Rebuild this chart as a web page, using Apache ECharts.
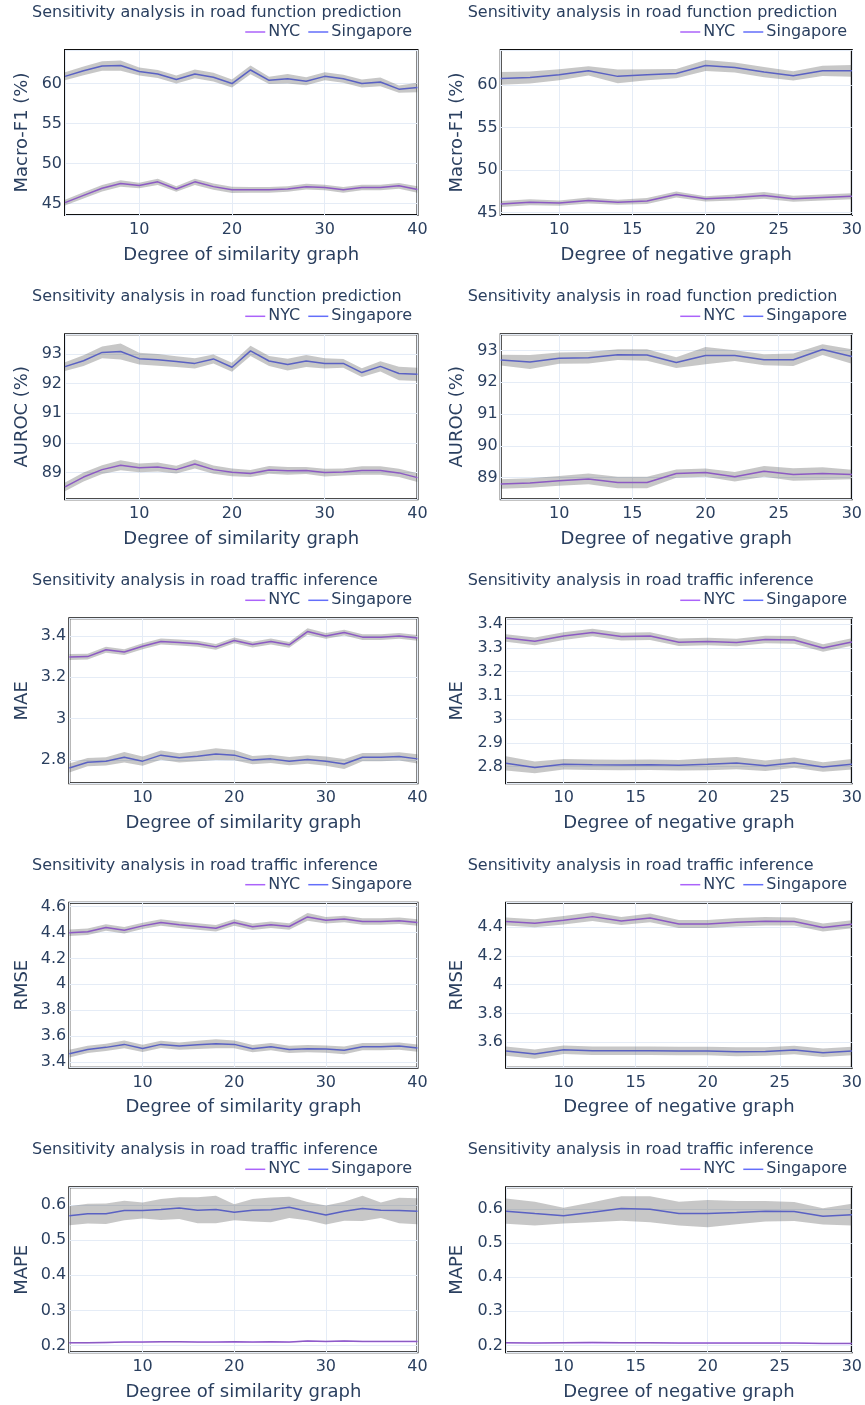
<!DOCTYPE html>
<html>
<head>
<meta charset="utf-8">
<script src="https://cdn.jsdelivr.net/npm/echarts@6/dist/echarts.min.js"></script>
<style>
  html, body { margin: 0; padding: 0; background: #fff; }
  #chart { width: 865px; height: 1405px; }
</style>
</head>
<body>
<div id="chart"></div>
<script>
// x values
const degreeSim = [2, 4, 6, 8, 10, 12, 14, 16, 18, 20, 22, 24, 26, 28, 30, 32, 34, 36, 38, 40]
const degreeNeg = [6, 8, 10, 12, 14, 16, 18, 20, 22, 24, 26, 28, 30]

// Macro-F1, similarity graph
const f1SimNYC = [45.1, 46.0, 46.9, 47.5, 47.25, 47.7, 46.8, 47.7, 47.1, 46.7, 46.7, 46.7, 46.8, 47.1, 47.0, 46.7, 47.0, 47.0, 47.2, 46.75]
const f1SimNYCStd = [0.35, 0.4, 0.4, 0.4, 0.35, 0.4, 0.35, 0.4, 0.4, 0.4, 0.35, 0.35, 0.35, 0.35, 0.35, 0.35, 0.35, 0.35, 0.35, 0.4]
const f1SimSG = [60.9, 61.6, 62.2, 62.25, 61.5, 61.2, 60.5, 61.2, 60.8, 60.0, 61.7, 60.4, 60.6, 60.3, 60.9, 60.6, 60.0, 60.2, 59.3, 59.5]
const f1SimSGStd = [0.5, 0.55, 0.6, 0.65, 0.5, 0.5, 0.5, 0.55, 0.55, 0.5, 0.55, 0.45, 0.6, 0.5, 0.5, 0.5, 0.5, 0.55, 0.45, 0.6]

// Macro-F1, negative graph
const f1NegNYC = [46.0, 46.2, 46.1, 46.4, 46.2, 46.35, 47.1, 46.6, 46.75, 47.0, 46.6, 46.75, 46.9]
const f1NegNYCStd = [0.35, 0.35, 0.3, 0.35, 0.3, 0.35, 0.35, 0.3, 0.35, 0.4, 0.35, 0.35, 0.35]
const f1NegSG = [60.75, 60.86, 61.2, 61.65, 61.0, 61.2, 61.33, 62.28, 62.04, 61.5, 61.06, 61.65, 61.65]
const f1NegSGStd = [0.75, 0.7, 0.65, 0.55, 0.8, 0.65, 0.55, 0.65, 0.6, 0.6, 0.55, 0.6, 0.7]

// AUROC, similarity graph
const aurocSimNYC = [88.52, 88.85, 89.1, 89.25, 89.16, 89.19, 89.1, 89.29, 89.1, 89.01, 88.97, 89.09, 89.06, 89.07, 89.0, 89.02, 89.07, 89.07, 88.99, 88.83]
const aurocSimNYCStd = [0.15, 0.15, 0.15, 0.17, 0.15, 0.15, 0.13, 0.15, 0.14, 0.13, 0.12, 0.13, 0.13, 0.12, 0.13, 0.12, 0.14, 0.14, 0.14, 0.15]
const aurocSimSG = [92.57, 92.77, 93.05, 93.08, 92.84, 92.8, 92.74, 92.68, 92.83, 92.55, 93.1, 92.76, 92.64, 92.76, 92.68, 92.68, 92.37, 92.58, 92.34, 92.31]
const aurocSimSGStd = [0.15, 0.18, 0.2, 0.27, 0.2, 0.2, 0.18, 0.17, 0.15, 0.15, 0.17, 0.17, 0.2, 0.2, 0.17, 0.15, 0.15, 0.17, 0.23, 0.22]

// AUROC, negative graph
const aurocNegNYC = [88.8, 88.83, 88.9, 88.96, 88.85, 88.85, 89.13, 89.16, 89.03, 89.2, 89.1, 89.13, 89.1]
const aurocNegNYCStd = [0.15, 0.15, 0.15, 0.17, 0.18, 0.18, 0.13, 0.13, 0.15, 0.17, 0.2, 0.2, 0.15]
const aurocNegSG = [92.7, 92.64, 92.76, 92.77, 92.87, 92.86, 92.62, 92.84, 92.84, 92.71, 92.71, 93.03, 92.81]
const aurocNegSGStd = [0.17, 0.22, 0.18, 0.18, 0.17, 0.18, 0.17, 0.27, 0.17, 0.17, 0.2, 0.17, 0.23]

// MAE, similarity graph
const maeSimNYC = [3.298, 3.3, 3.333, 3.322, 3.35, 3.373, 3.368, 3.362, 3.347, 3.378, 3.358, 3.373, 3.357, 3.421, 3.4, 3.416, 3.394, 3.394, 3.4, 3.39]
const maeSimNYCStd = [0.014, 0.014, 0.014, 0.014, 0.014, 0.014, 0.014, 0.014, 0.014, 0.014, 0.014, 0.014, 0.014, 0.016, 0.014, 0.014, 0.014, 0.014, 0.014, 0.014]
const maeSimSG = [2.762, 2.79, 2.794, 2.814, 2.795, 2.824, 2.811, 2.819, 2.829, 2.824, 2.8, 2.806, 2.795, 2.803, 2.795, 2.781, 2.814, 2.814, 2.818, 2.806]
const maeSimSGStd = [0.022, 0.02, 0.02, 0.025, 0.022, 0.022, 0.022, 0.025, 0.028, 0.025, 0.02, 0.02, 0.02, 0.02, 0.022, 0.024, 0.02, 0.02, 0.02, 0.022]

// MAE, negative graph
const maeNegNYC = [3.342, 3.328, 3.35, 3.365, 3.348, 3.35, 3.324, 3.327, 3.323, 3.336, 3.334, 3.3, 3.325]
const maeNegNYCStd = [0.016, 0.016, 0.016, 0.016, 0.016, 0.016, 0.016, 0.016, 0.016, 0.016, 0.016, 0.016, 0.016]
const maeNegSG = [2.814, 2.797, 2.81, 2.808, 2.807, 2.808, 2.806, 2.81, 2.815, 2.804, 2.817, 2.799, 2.81]
const maeNegSGStd = [0.03, 0.025, 0.022, 0.022, 0.022, 0.022, 0.022, 0.025, 0.026, 0.022, 0.022, 0.02, 0.022]

// RMSE, similarity graph
const rmseSimNYC = [4.398, 4.405, 4.438, 4.418, 4.451, 4.477, 4.459, 4.446, 4.433, 4.477, 4.444, 4.459, 4.446, 4.52, 4.495, 4.505, 4.485, 4.485, 4.49, 4.477]
const rmseSimNYCStd = [0.025, 0.025, 0.025, 0.025, 0.025, 0.025, 0.025, 0.025, 0.025, 0.025, 0.025, 0.025, 0.025, 0.03, 0.025, 0.025, 0.025, 0.025, 0.025, 0.025]
const rmseSimSG = [3.464, 3.497, 3.513, 3.536, 3.505, 3.536, 3.523, 3.533, 3.541, 3.536, 3.503, 3.518, 3.497, 3.503, 3.5, 3.49, 3.518, 3.518, 3.523, 3.508]
const rmseSimSGStd = [0.03, 0.028, 0.028, 0.03, 0.028, 0.028, 0.028, 0.032, 0.035, 0.03, 0.028, 0.028, 0.028, 0.028, 0.028, 0.03, 0.028, 0.028, 0.028, 0.028]

// RMSE, negative graph
const rmseNegNYC = [4.44, 4.428, 4.449, 4.474, 4.444, 4.465, 4.423, 4.423, 4.435, 4.442, 4.44, 4.398, 4.421]
const rmseNegNYCStd = [0.028, 0.028, 0.03, 0.03, 0.028, 0.03, 0.028, 0.028, 0.03, 0.03, 0.028, 0.028, 0.028]
const rmseNegSG = [3.538, 3.517, 3.547, 3.54, 3.54, 3.54, 3.538, 3.538, 3.533, 3.535, 3.545, 3.526, 3.538]
const rmseNegSGStd = [0.032, 0.032, 0.03, 0.03, 0.03, 0.03, 0.03, 0.03, 0.032, 0.03, 0.03, 0.03, 0.03]

// MAPE, similarity graph
const mapeSimNYC = [0.208, 0.208, 0.209, 0.21, 0.21, 0.211, 0.211, 0.21, 0.21, 0.211, 0.21, 0.211, 0.21, 0.213, 0.212, 0.213, 0.212, 0.212, 0.212, 0.212]
const mapeSimNYCStd = [0.002, 0.002, 0.002, 0.002, 0.002, 0.002, 0.002, 0.002, 0.002, 0.002, 0.002, 0.002, 0.002, 0.002, 0.002, 0.002, 0.002, 0.002, 0.002, 0.002]
const mapeSimSG = [0.569, 0.575, 0.575, 0.584, 0.584, 0.587, 0.591, 0.585, 0.587, 0.579, 0.585, 0.586, 0.593, 0.582, 0.571, 0.582, 0.59, 0.585, 0.584, 0.582]
const mapeSimSGStd = [0.027, 0.028, 0.029, 0.028, 0.023, 0.03, 0.031, 0.037, 0.039, 0.023, 0.032, 0.035, 0.03, 0.026, 0.027, 0.027, 0.036, 0.022, 0.036, 0.037]

// MAPE, negative graph
const mapeNegNYC = [0.208, 0.207, 0.208, 0.209, 0.208, 0.208, 0.207, 0.207, 0.207, 0.207, 0.207, 0.206, 0.206]
const mapeNegNYCStd = [0.002, 0.002, 0.002, 0.002, 0.002, 0.002, 0.002, 0.002, 0.002, 0.002, 0.002, 0.002, 0.002]
const mapeNegSG = [0.593, 0.586, 0.58, 0.59, 0.601, 0.599, 0.586, 0.586, 0.589, 0.593, 0.592, 0.578, 0.583]
const mapeNegSGStd = [0.037, 0.035, 0.023, 0.029, 0.036, 0.038, 0.035, 0.04, 0.034, 0.03, 0.028, 0.024, 0.032]

const cityNames = ['NYC', 'Singapore']
const titleFunc = 'Sensitivity analysis in road function prediction'
const titleTraffic = 'Sensitivity analysis in road traffic inference'
const xNameSim = 'Degree of similarity graph'
const xNameNeg = 'Degree of negative graph'

const textColor = '#2a3f5f'
const gridColor = '#E5ECF6'
const bandColor = 'rgba(68,68,68,0.3)'
const lineColors = ['#AB63FA', '#636EFA']
const fontFamily = 'DejaVu Sans'

// panel layout: row tops of the plot frames
const rowTops = [50, 334.3, 618.3, 902.7, 1187.3]
const frameH = 165

const panels = [
  { row: 0, col: 0, left: 65, title: titleFunc, yName: 'Macro-F1 (%)', xName: xNameSim, x: degreeSim, nyc: f1SimNYC, nycStd: f1SimNYCStd, sg: f1SimSG, sgStd: f1SimSGStd, xmin: 2, xmax: 40, xInt: 10, ymin: 43.55, ymax: 64.2, yInt: 5 },
  { row: 0, col: 1, left: 500.7, title: titleFunc, yName: 'Macro-F1 (%)', xName: xNameNeg, x: degreeNeg, nyc: f1NegNYC, nycStd: f1NegNYCStd, sg: f1NegSG, sgStd: f1NegSGStd, xmin: 6, xmax: 30, xInt: 5, ymin: 44.7, ymax: 64.1, yInt: 5 },
  { row: 1, col: 0, left: 65, title: titleFunc, yName: 'AUROC (%)', xName: xNameSim, x: degreeSim, nyc: aurocSimNYC, nycStd: aurocSimNYCStd, sg: aurocSimSG, sgStd: aurocSimSGStd, xmin: 2, xmax: 40, xInt: 10, ymin: 88.1, ymax: 93.66, yInt: 1 },
  { row: 1, col: 1, left: 500.7, title: titleFunc, yName: 'AUROC (%)', xName: xNameNeg, x: degreeNeg, nyc: aurocNegNYC, nycStd: aurocNegNYCStd, sg: aurocNegSG, sgStd: aurocNegSGStd, xmin: 6, xmax: 30, xInt: 5, ymin: 88.32, ymax: 93.51, yInt: 1 },
  { row: 2, col: 0, left: 69.3, title: titleTraffic, yName: 'MAE', xName: xNameSim, x: degreeSim, nyc: maeSimNYC, nycStd: maeSimNYCStd, sg: maeSimSG, sgStd: maeSimSGStd, xmin: 2, xmax: 40, xInt: 10, ymin: 2.688, ymax: 3.485, yInt: 0.2 },
  { row: 2, col: 1, left: 506, title: titleTraffic, yName: 'MAE', xName: xNameNeg, x: degreeNeg, nyc: maeNegNYC, nycStd: maeNegNYCStd, sg: maeNegSG, sgStd: maeNegSGStd, xmin: 6, xmax: 30, xInt: 5, ymin: 2.73, ymax: 3.425, yInt: 0.1 },
  { row: 3, col: 0, left: 69.3, title: titleTraffic, yName: 'RMSE', xName: xNameSim, x: degreeSim, nyc: rmseSimNYC, nycStd: rmseSimNYCStd, sg: rmseSimSG, sgStd: rmseSimSGStd, xmin: 2, xmax: 40, xInt: 10, ymin: 3.356, ymax: 4.63, yInt: 0.2 },
  { row: 3, col: 1, left: 506, title: titleTraffic, yName: 'RMSE', xName: xNameNeg, x: degreeNeg, nyc: rmseNegNYC, nycStd: rmseNegNYCStd, sg: rmseNegSG, sgStd: rmseNegSGStd, xmin: 6, xmax: 30, xInt: 5, ymin: 3.422, ymax: 4.571, yInt: 0.2 },
  { row: 4, col: 0, left: 69.3, title: titleTraffic, yName: 'MAPE', xName: xNameSim, x: degreeSim, nyc: mapeSimNYC, nycStd: mapeSimNYCStd, sg: mapeSimSG, sgStd: mapeSimSGStd, xmin: 2, xmax: 40, xInt: 10, ymin: 0.181, ymax: 0.65, yInt: 0.1 },
  { row: 4, col: 1, left: 506, title: titleTraffic, yName: 'MAPE', xName: xNameNeg, x: degreeNeg, nyc: mapeNegNYC, nycStd: mapeNegNYCStd, sg: mapeNegSG, sgStd: mapeNegSGStd, xmin: 6, xmax: 30, xInt: 5, ymin: 0.18, ymax: 0.663, yInt: 0.1 }
]

const chart = echarts.init(document.getElementById('chart'), null, { renderer: 'canvas' })

let option = {
  animation: false,
  backgroundColor: '#fff',
  textStyle: { fontFamily: fontFamily },
  title: [],
  legend: [],
  grid: [],
  xAxis: [],
  yAxis: [],
  series: []
}

panels.forEach((p, i) => {
  const top = rowTops[p.row]
  const right = 852.7
  const width = (p.col === 0 ? 417.5 : right) - p.left
  const yNameCenter = p.col === 0 ? 22 : 457

  option.title.push({
    text: p.title,
    left: p.col === 0 ? 32 : 467.7,
    top: top - 45,
    padding: 0,
    textStyle: { fontSize: 16, fontWeight: 'normal', color: textColor, fontFamily: fontFamily }
  })
  option.legend.push({
    data: cityNames,
    right: p.col === 0 ? 453 : 18,
    top: top - 26,
    padding: 0,
    icon: 'rect',
    itemWidth: 20,
    itemHeight: 1.5,
    itemGap: 8,
    textStyle: { fontSize: 16, color: textColor, fontFamily: fontFamily, padding: [0, 0, 0, -2] },
    selectedMode: false
  })
  option.grid.push({
    left: p.left,
    top: top,
    width: width,
    height: frameH,
    show: true,
    borderColor: '#111',
    borderWidth: 2,
    backgroundColor: '#fff'
  })
  option.xAxis.push({
    gridIndex: i,
    type: 'value',
    min: p.xmin,
    max: p.xmax,
    minInterval: p.xInt,
    maxInterval: p.xInt,
    splitNumber: 4,
    axisLine: { show: false },
    axisTick: { show: false },
    axisLabel: { fontSize: 16, color: textColor, margin: 7, showMinLabel: false, fontFamily: fontFamily },
    splitLine: { show: true, lineStyle: { color: gridColor, width: 1 } },
    name: p.xName,
    nameLocation: 'middle',
    nameGap: 31,
    nameTextStyle: { fontSize: 18, color: textColor, fontFamily: fontFamily }
  })
  option.yAxis.push({
    gridIndex: i,
    type: 'value',
    min: p.ymin,
    max: p.ymax,
    minInterval: p.yInt,
    maxInterval: p.yInt,
    splitNumber: 5,
    axisLine: { show: false },
    axisTick: { show: false },
    axisLabel: { fontSize: 16, color: textColor, margin: 3, showMinLabel: false, showMaxLabel: false, fontFamily: fontFamily },
    splitLine: { show: true, lineStyle: { color: gridColor, width: 1 } },
    name: p.yName,
    nameLocation: 'middle',
    nameRotate: 90,
    nameGap: p.left - yNameCenter - 9,
    nameTextStyle: { fontSize: 18, color: textColor, fontFamily: fontFamily }
  })

  const groups = [
    { name: 'NYC', mean: p.nyc, std: p.nycStd, color: lineColors[0] },
    { name: 'Singapore', mean: p.sg, std: p.sgStd, color: lineColors[1] }
  ]
  groups.forEach((g) => {
    option.series.push({
      name: g.name,
      type: 'line',
      xAxisIndex: i,
      yAxisIndex: i,
      data: p.x.map((d, j) => [d, g.mean[j]]),
      showSymbol: false,
      symbol: 'none',
      itemStyle: { color: g.color },
      lineStyle: { color: g.color, width: 1.5 },
      z: 2,
      silent: true
    })
  })
  // bands = mean +- std, drawn on top of the lines like plotly does
  option.series.push({
    name: 'band',
    type: 'custom',
    xAxisIndex: i,
    yAxisIndex: i,
    z: 3,
    silent: true,
    clip: true,
    data: [[p.x[0], p.nyc[0]]],
    renderItem: (params, api) => {
      const children = groups.map((g) => {
        const upper = p.x.map((d, j) => api.coord([d, g.mean[j] + g.std[j]]))
        const lower = p.x.map((d, j) => api.coord([d, g.mean[j] - g.std[j]])).reverse()
        return {
          type: 'polygon',
          shape: { points: upper.concat(lower) },
          style: { fill: bandColor, stroke: null }
        }
      })
      const cs = params.coordSys
      return {
        type: 'group',
        clipPath: { type: 'rect', shape: { x: cs.x, y: cs.y, width: cs.width, height: cs.height } },
        children: children
      }
    }
  })
})

chart.setOption(option)
</script>
</body>
</html>
